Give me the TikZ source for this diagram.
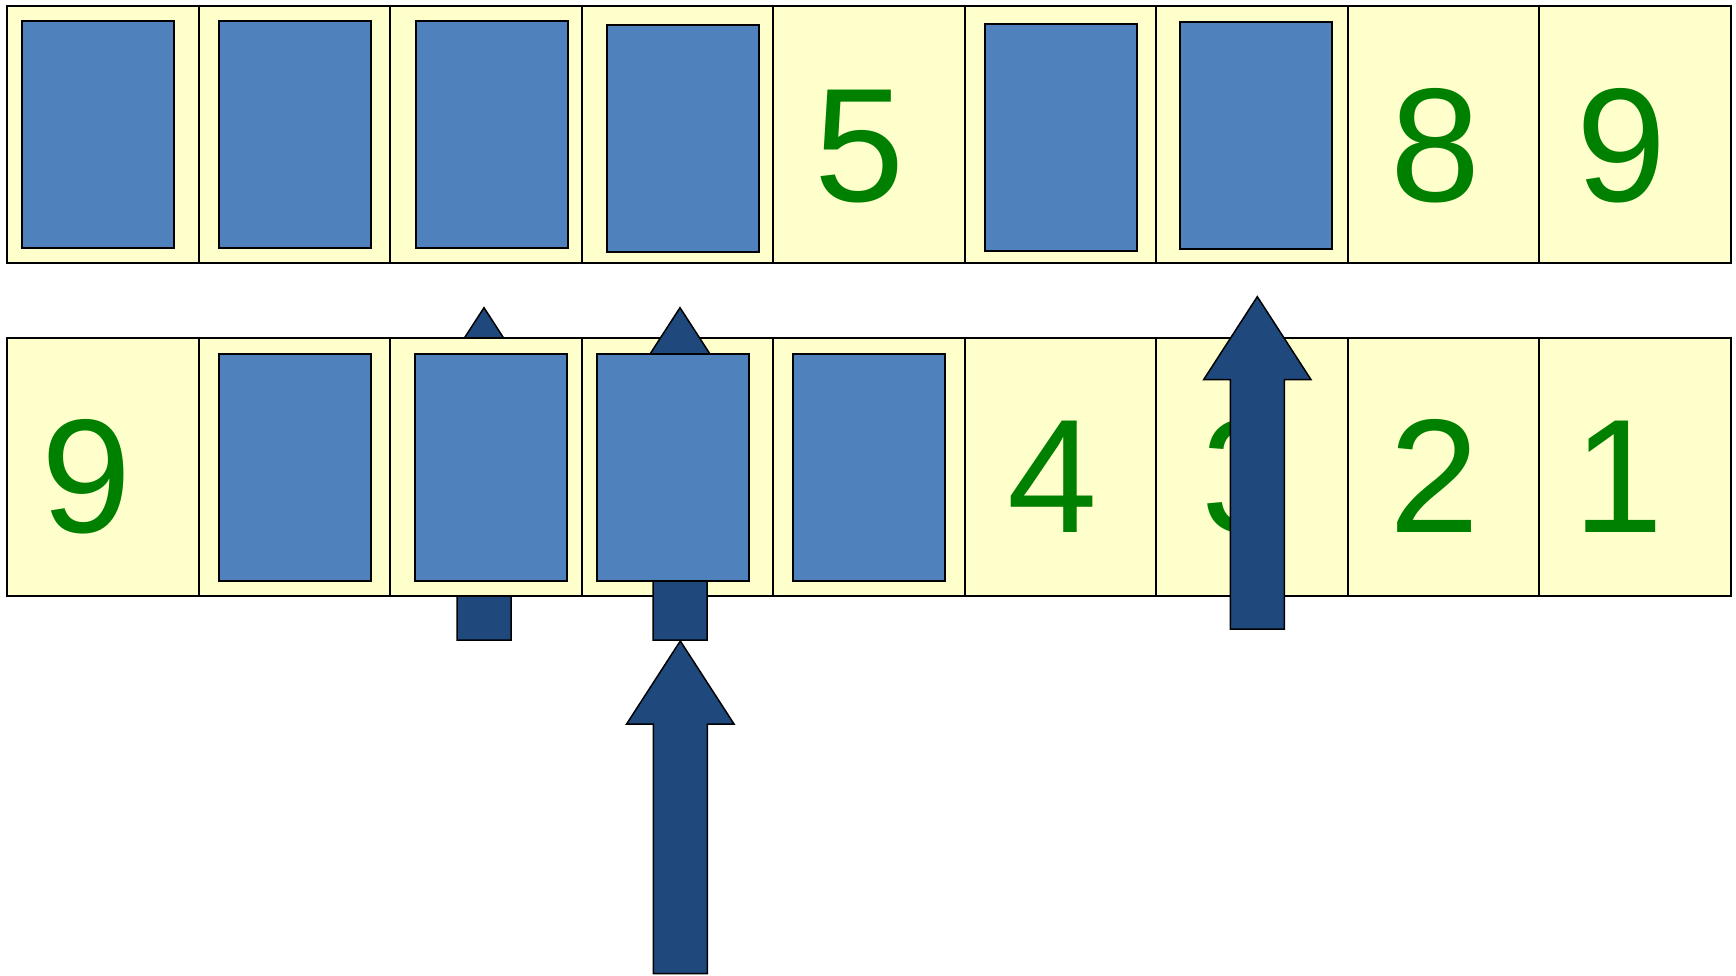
\documentclass[tikz,border=0pt]{standalone}
\usepackage{fontspec}
\setmainfont{Liberation Sans}
\usepackage{tikz}

\definecolor{cellyellow}{HTML}{FFFFCC}
\definecolor{cardblue}{HTML}{4F81BD}
\definecolor{arrowblue}{HTML}{1F497D}
\definecolor{digitgreen}{HTML}{008000}

% a fat upward arrow, given the x of its axis and the y of its tip
\newcommand{\fatarrow}[2]{%
  \draw[arrowbody] (#1,#2) -- ++(53.7,83) -- ++(-26.7,0) -- ++(0,249.5)
    -- ++(-54,0) -- ++(0,-249.5) -- ++(-26.7,0) -- cycle;}

\begin{document}
\begin{tikzpicture}[x=1pt,y=-1pt,
  cell/.style={draw,line width=2pt,fill=cellyellow,minimum width=191.5pt,
    minimum height=257.3pt,inner sep=0pt},
  card/.style={draw,line width=2pt,fill=cardblue,minimum width=152pt,
    minimum height=227pt,inner sep=0pt},
  digit/.style={text=digitgreen,font=\fontsize{162}{162}\selectfont,
    anchor=base,inner sep=0pt},
  arrowbody/.style={draw,line width=1.5pt,fill=arrowblue}]
\useasboundingbox (0,0) rectangle (1736,976);

% this arrow hides behind the lower row
\fatarrow{484}{307.7}

% the two rows of cells
\foreach \i in {1,...,9} {
  \node[cell] (top\i) at ({7.3+191.5*(\i-0.5)},134.7) {};
  \node[cell] (low\i) at ({7.3+191.5*(\i-0.5)},467) {};
}

% over the yellow, under the cards
\fatarrow{680}{307.7}

% cards of the upper row
\foreach \n/\x/\y in {1/98.3/134.7, 2/295.3/134.7, 3/491.9/134.7,
                      4/682.5/138.4, 6/1060.9/137.4, 7/1255.7/135.9}
  \node[card] (topcard\n) at (\x,\y) {};

% cards of the lower row
\foreach \n/\x in {2/294.9, 3/491.2, 4/672.9, 5/869.2}
  \node[card] (lowcard\n) at (\x,467.2) {};

% digits
\foreach \n/\x/\d in {5/859.2/5, 8/1435.7/8, 9/1621.3/9}
  \node[digit] (topdigit\n) at (\x,202) {\d};
\foreach \n/\x/\d in {1/86.7/9, 6/1052.2/4, 7/1246.7/3, 8/1434.3/2, 9/1618.5/1}
  \node[digit] (lowdigit\n) at (\x,532.3) {\d};

% arrows on top of everything
\fatarrow{1257.3}{296.7}
\fatarrow{680.3}{641}
\end{tikzpicture}
\end{document}
